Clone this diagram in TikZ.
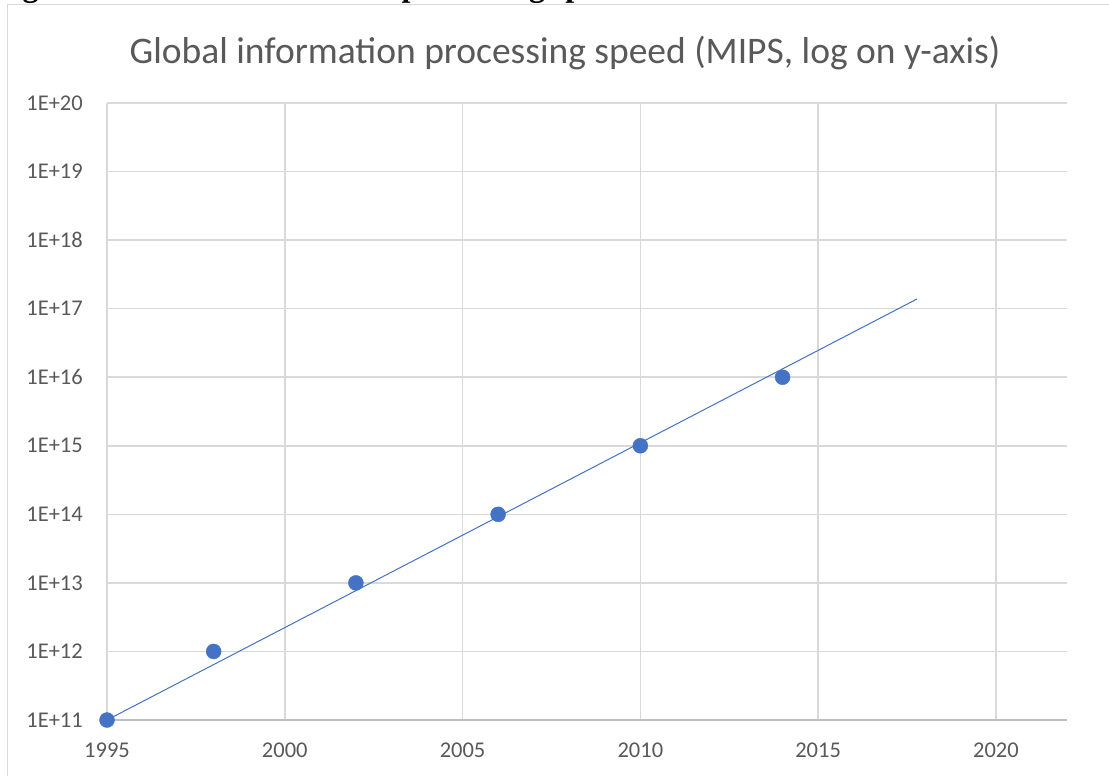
\documentclass[tikz,border=0pt]{standalone}
\usepackage{fontspec}
\setmainfont{Carlito}
\newfontfamily\capfont{Liberation Serif}
\definecolor{gridc}{HTML}{D9D9D9}
\definecolor{axisc}{HTML}{BFBFBF}
\definecolor{txtc}{HTML}{595959}
\definecolor{ser}{HTML}{4472C4}
\begin{document}
\begin{tikzpicture}[x=1pt,y=-1pt,
  grid/.style={draw=gridc,line width=1.5pt},
  ticklab/.style={text=txtc,font=\fontsize{22.5}{24}\selectfont,inner sep=0pt},
  dot/.style={circle,fill=ser,draw=ser,minimum size=15pt,inner sep=0pt},
  trend/.style={draw=ser,line width=1pt}]
\useasboundingbox (0,0) rectangle (1109,776);
\fill[white] (0,0) rectangle (1109,776);
\begin{scope}
\clip (0,0) rectangle (1109,776);
% cut-off caption above the chart
\node[anchor=base west,inner sep=0pt,font=\fontsize{32}{32}\selectfont\capfont\bfseries] (cap) at (-6,-3.5) {Figure 5: Global information processing speed};
% chart frame
\draw[draw=gridc,line width=1.5pt] (7.5,4.5) rectangle (1130,800);
\end{scope}
% title
\node[text=txtc,font=\fontsize{37.5}{40}\selectfont,inner sep=0pt] (title) at (565,53) {Global information processing speed (MIPS, log on y-axis)};
% horizontal gridlines and y labels
\foreach \e [count=\i from 0] in {11,...,20} {
  \pgfmathsetmacro{\yy}{720-(\e-11)*68.556}
  \coordinate (hl\e) at (107,\yy);
  \coordinate (hr\e) at (1067,\yy);
  \node[ticklab,anchor=east] (yl\e) at (83,\yy) {1E+\e};
}
\foreach \e in {12,...,20} { \draw[grid] (hl\e) -- (hr\e); }
% vertical gridlines and x labels
\foreach \yr in {1995,2000,2005,2010,2015,2020} {
  \pgfmathsetmacro{\xx}{107+(\yr-1995)*35.556}
  \coordinate (vt\yr) at (\xx,103);
  \coordinate (vb\yr) at (\xx,720);
  \node[ticklab] (xl\yr) at (\xx,750) {\yr};
}
\foreach \yr in {1995,2000,2005,2010,2015,2020} { \draw[grid] (vt\yr) -- (vb\yr); }
\draw[draw=axisc,line width=1.5pt] (hl11) -- (hr11);
% trend line
\coordinate (t0) at (107,720);
\coordinate (t1) at (917,299);
\draw[trend] (t0) -- (t1);
% data points
\foreach \yr/\e [count=\k] in {1995/11,1998/12,2002/13,2006/14,2010/15,2014/16} {
  \pgfmathsetmacro{\xx}{107+(\yr-1995)*35.556}
  \pgfmathsetmacro{\yy}{720-(\e-11)*68.556}
  \node[dot] (p\k) at (\xx,\yy) {};
}
\end{tikzpicture}
\end{document}
